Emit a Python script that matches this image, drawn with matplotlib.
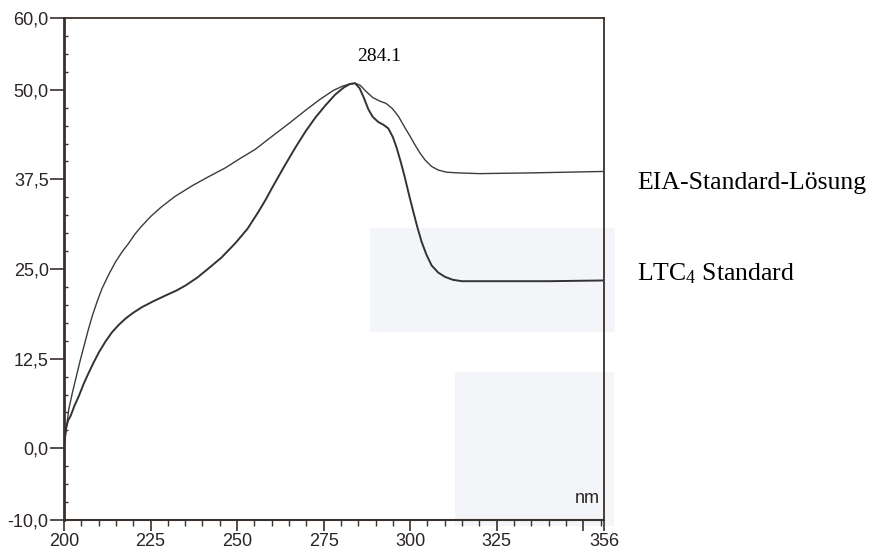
import matplotlib
matplotlib.use("Agg")
import matplotlib.pyplot as plt
from matplotlib.ticker import FixedLocator, MultipleLocator, NullFormatter
from matplotlib.patches import Rectangle

# Absorption spectra (wavelength in nm, absorbance in mAU)
eia_nm = [200.0, 200.5, 201.4, 202.4, 203.4, 204.6, 205.8, 207.0, 208.2, 209.6,
          211.0, 213.0, 214.9, 216.8, 218.7, 220.4, 222.1, 225.0, 228.0, 232.0,
          237.0, 241.5, 246.6, 250.5, 255.3, 260.1, 265.0, 269.7, 273.8, 277.8,
          280.5, 282.5, 284.1, 285.6, 287.2, 289.2, 291.3, 293.0, 294.8, 296.6,
          298.5, 300.0, 301.4, 302.8, 304.3, 306.2, 308.1, 310.5, 313.9, 320.0,
          335.0, 355.5]
eia_val = [0.0, 2.0, 5.5, 7.7, 9.7, 12.1, 14.3, 16.5, 18.5, 20.5,
           22.3, 24.3, 26.0, 27.4, 28.6, 29.8, 30.8, 32.3, 33.6, 35.1,
           36.6, 37.8, 39.1, 40.3, 41.7, 43.5, 45.3, 47.1, 48.6, 49.9,
           50.5, 50.8, 50.9, 50.6, 49.8, 48.9, 48.4, 48.1, 47.4, 46.3,
           44.7, 43.5, 42.3, 41.2, 40.2, 39.3, 38.8, 38.5, 38.4, 38.3,
           38.4, 38.6]

ltc4_nm = [200.0, 200.5, 201.2, 201.9, 203.0, 204.3, 205.7, 207.2, 208.6, 210.1,
           212.0, 213.9, 215.8, 217.8, 220.0, 222.6, 225.8, 229.3, 232.5, 235.1,
           238.5, 241.8, 245.5, 249.5, 253.0, 256.2, 258.3, 260.1, 263.5, 266.8,
           269.8, 272.6, 275.5, 278.3, 280.8, 282.6, 284.1, 285.4, 286.6, 287.9,
           289.2, 290.8, 292.3, 293.7, 295.0, 296.1, 297.3, 298.5, 299.7, 300.9,
           302.1, 303.3, 304.7, 306.2, 308.1, 310.1, 312.3, 314.9, 325.0, 340.0,
           355.5]
ltc4_val = [0.0, 2.7, 3.9, 4.5, 5.9, 7.3, 9.0, 10.6, 12.0, 13.4,
            14.9, 16.2, 17.2, 18.1, 18.9, 19.7, 20.5, 21.3, 22.0, 22.7,
            23.8, 25.1, 26.6, 28.6, 30.6, 33.0, 34.7, 36.3, 39.2, 41.9,
            44.2, 46.1, 47.8, 49.3, 50.3, 50.8, 50.9, 50.2, 48.9, 47.3,
            46.2, 45.5, 45.1, 44.6, 43.4, 41.9, 39.9, 37.7, 35.3, 33.0,
            30.8, 28.8, 27.0, 25.5, 24.5, 23.9, 23.5, 23.3, 23.3, 23.3,
            23.4]

peak_nm = 284.1
peak_label_pos = (291.0, 54.6)

x_major = [200, 225, 250, 275, 300, 325, 350, 356]
x_labels = ["200", "225", "250", "275", "300", "325", "", "356"]
y_major = [-10.0, 0.0, 12.5, 25.0, 37.5, 50.0, 60.0]
y_labels = ["-10,0", "0,0", "12,5", "25,0", "37,5", "50,0", "60,0"]

series_labels = ["EIA-Standard-Lösung", r"LTC$_\mathregular{4}$ Standard"]

plt.rcParams["mathtext.default"] = "regular"

W, H = 877, 549
fig = plt.figure(figsize=(W / 100, H / 100), dpi=100)
fig.patch.set_facecolor("white")

# faint greyish-blue areas of the printout
for (x0, y0, x1, y1) in [(370, 228, 615, 332), (455, 372, 614, 526)]:
    fig.patches.append(Rectangle((x0 / W, 1 - y1 / H), (x1 - x0) / W, (y1 - y0) / H,
                                 transform=fig.transFigure, facecolor="#f3f5f9",
                                 edgecolor="none", zorder=-5))

ax = fig.add_axes([64 / W, 1 - 520 / H, (604 - 64) / W, (520 - 18) / H])
ax.set_zorder(3)
ax.set_facecolor("none")
ax.set_xlim(200, 356)
ax.set_ylim(-10, 60)

ink = "#3a302c"
ax.plot(eia_nm, eia_val, color="#3c3c3c", lw=1.0, solid_joinstyle="round")
ax.plot(ltc4_nm, ltc4_val, color="#333333", lw=1.4, solid_joinstyle="round")

for side, sp in ax.spines.items():
    sp.set_color(ink)
    sp.set_linewidth(1.3)
ax.spines["left"].set_linewidth(2.0)
ax.spines["bottom"].set_linewidth(1.5)

ax.xaxis.set_major_locator(FixedLocator(x_major))
ax.set_xticklabels(x_labels)
ax.xaxis.set_minor_locator(MultipleLocator(5))
ax.yaxis.set_major_locator(FixedLocator(y_major))
ax.set_yticklabels(y_labels)
ax.yaxis.set_minor_locator(MultipleLocator(2.5))
ax.yaxis.set_minor_formatter(NullFormatter())

ax.tick_params(axis="x", which="major", direction="out", length=8, width=1.2,
               color=ink, pad=1, labelsize=13, labelcolor="#2a2422")
ax.tick_params(axis="x", which="minor", direction="out", length=4, width=1.0, color=ink)
ax.tick_params(axis="y", which="major", direction="out", length=10, width=1.2,
               color=ink, pad=1, labelsize=13, labelcolor="#2a2422")
ax.tick_params(axis="y", which="minor", direction="in", length=3, width=1.0, color=ink)
for lab in ax.get_xticklabels() + ax.get_yticklabels():
    lab.set_fontfamily("Liberation Sans")

ax.text(354.8, -7.0, "nm", ha="right", va="center", fontsize=13,
        family="Liberation Sans", color="#2a2422")

ax.text(peak_label_pos[0], peak_label_pos[1], f"{peak_nm:.1f}", ha="center", va="center",
        fontsize=14, family="Liberation Serif", color="black")

fig.text(637 / W, 1 - 183 / H, series_labels[0], ha="left", va="center",
         fontsize=18.5, family="Liberation Serif", color="black")
fig.text(637 / W, 1 - 274 / H, series_labels[1], ha="left", va="center",
         fontsize=18.5, family="Liberation Serif", color="black")

fig.savefig("out.png", dpi=100, facecolor="white")
